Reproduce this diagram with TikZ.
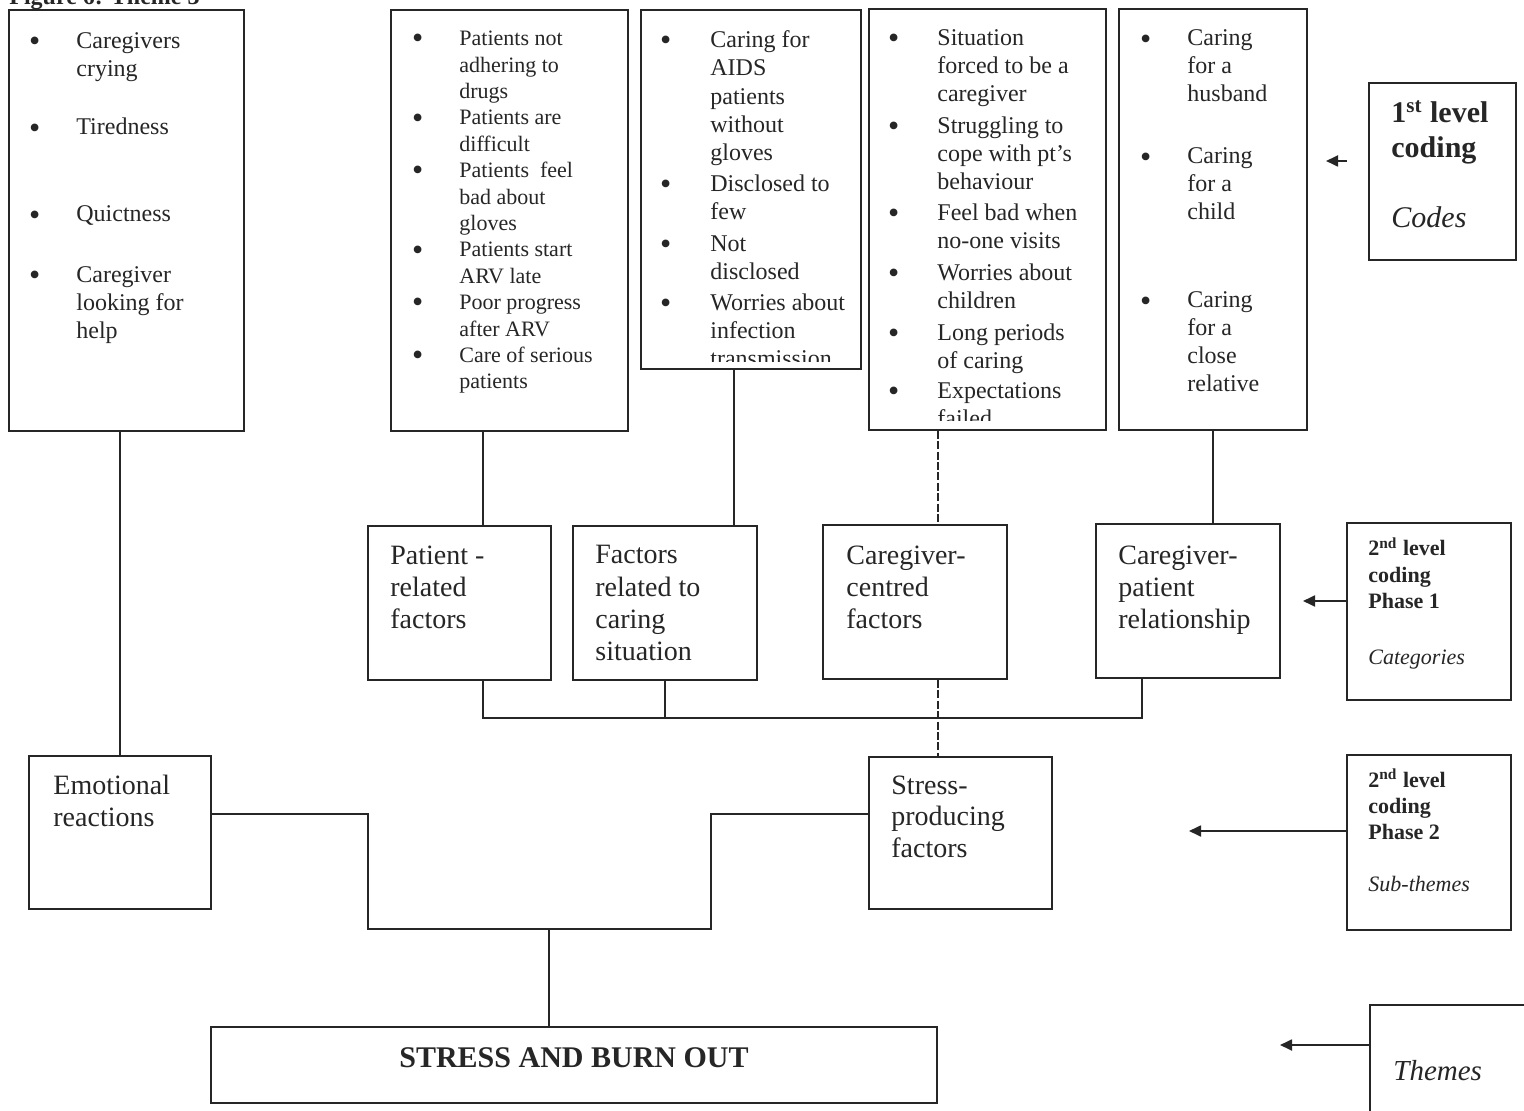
\documentclass[tikz,border=0pt]{standalone}
\usepackage{fontspec}
\setmainfont{Liberation Serif}
\usetikzlibrary{fit,arrows.meta}
\definecolor{ink}{RGB}{38,38,38}
\newcommand\bul[1][18pt]{\llap{\raisebox{-1.6pt}{\fontsize{16}{16}\selectfont\textbullet}\hspace{#1}}\ignorespaces}
\tikzset{
  box/.style={draw=ink, line width=0.9pt, inner sep=0pt, rectangle},
  ln/.style={draw=ink, line width=0.9pt},
  dln/.style={ln, dash pattern=on 4pt off 1.2pt},
  arr/.style={ln, -{Triangle[length=6pt,width=5.5pt]}},
  code/.style={anchor=base west, inner sep=0pt, align=left, text=ink, font=\fontsize{12}{14.2}\selectfont},
  codesm/.style={code, font=\fontsize{11}{13.2}\selectfont},
  cat/.style={code, font=\fontsize{14}{16}\selectfont},
  catb/.style={code, font=\fontsize{14}{15.6}\selectfont},
  legbig/.style={code, font=\fontsize{15}{17.5}\selectfont\bfseries},
  legbigit/.style={code, font=\fontsize{15}{17.5}\selectfont\itshape},
  legsm/.style={code, font=\fontsize{11}{13}\selectfont\bfseries},
  legsmit/.style={code, font=\fontsize{11}{13}\selectfont\itshape},
}
\begin{document}
\begin{tikzpicture}[x=0.5pt,y=-0.5pt]
\useasboundingbox (0,0) rectangle (1524,1111);
\fill[white] (0,0) rectangle (1524,1111);
\clip (0,0) rectangle (1524,1111);

% title (cut at the top edge)
\node[code, font=\fontsize{12}{14}\selectfont\bfseries] (title) at (9,5) {Figure 6: Theme 3};

% first-level code boxes
\node[box, fit={(9,10) (244,431)}] (A) {};
\node[box, fit={(391,10) (628,431)}] (B) {};
\node[box, fit={(641,10) (861,369)}] (C) {};
\node[box, fit={(869,9) (1106,430)}] (D) {};
\node[box, fit={(1119,9) (1307,430)}] (E) {};

% box A texts (nodes placed at the baseline of their last line)
\node[code] (a1) at (76,77) {\bul Caregivers\\crying};
\node[code] (a2) at (76,135) {\bul Tiredness};
\node[code] (a3) at (76,222) {\bul Quictness};
\node[code] (a4) at (76,339) {\bul Caregiver\\looking for\\help};

% box B texts
\node[codesm] (b1) at (459,389) {\bul Patients not\\adhering to\\drugs\\\bul Patients are\\difficult\\\bul Patients\ \ feel\\bad about\\gloves\\\bul Patients start\\ARV late\\\bul Poor progress\\after ARV\\\bul Care of serious\\patients};

% box C texts (last line cut by the box)
\begin{scope}
\clip (641,10) rectangle (861,362);
\node[code] (c1) at (710,161) {\bul[19.5pt] Caring for\\AIDS\\patients\\without\\gloves};
\node[code] (c2) at (710,220) {\bul[19.5pt] Disclosed to\\few};
\node[code] (c3) at (710,280) {\bul[19.5pt] Not\\disclosed};
\node[code] (c4) at (710,367) {\bul[19.5pt] Worries about\\infection\\transmission};
\end{scope}

% box D texts (last line cut by the box)
\begin{scope}
\clip (869,9) rectangle (1106,421);
\node[code] (d1) at (937,102) {\bul[19pt] Situation\\forced to be a\\caregiver};
\node[code] (d2) at (937,190) {\bul[19pt] Struggling to\\cope with pt’s\\behaviour};
\node[code] (d3) at (937,249) {\bul[19pt] Feel bad when\\no-one visits};
\node[code] (d4) at (937,309) {\bul[19pt] Worries about\\children};
\node[code] (d5) at (937,369) {\bul[19pt] Long periods\\of caring};
\node[code] (d6) at (937,427) {\bul[19pt] Expectations\\failed};
\end{scope}

% box E texts
\node[code, font=\fontsize{12}{14}\selectfont] (e1) at (1187,102) {\bul Caring\\for a\\husband};
\node[code, font=\fontsize{12}{14}\selectfont] (e2) at (1187,220) {\bul Caring\\for a\\child};
\node[code, font=\fontsize{12}{14}\selectfont] (e3) at (1187,392) {\bul Caring\\for a\\close\\relative};

% categories
\node[box, fit={(368,526) (551,680)}] (pat) {};
\node[box, fit={(573,526) (757,680)}] (fac) {};
\node[box, fit={(823,525) (1007,679)}] (cgc) {};
\node[box, fit={(1096,524) (1280,678)}] (rel) {};
\node[cat] (patT) at (390,628) {Patient -\\related\\factors};
\node[cat] (facT) at (595,660) {Factors\\related to\\caring\\situation};
\node[cat] (cgcT) at (846,628) {Caregiver-\\centred\\factors};
\node[cat] (relT) at (1118,628) {Caregiver-\\patient\\relationship};

% sub-themes
\node[box, fit={(29,756) (211,909)}] (emo) {};
\node[box, fit={(869,757) (1052,909)}] (stress) {};
\node[catb] (emoT) at (53,826) {Emotional\\reactions};
\node[catb] (stressT) at (891,857) {Stress-\\producing\\factors};

% theme
\node[box, fit={(211,1027) (937,1103)}] (burn) {};
\node[anchor=base, inner sep=0pt, text=ink, font=\fontsize{15}{17}\selectfont\bfseries] (burnT) at (574,1067) {STRESS AND BURN OUT};

% legend boxes
\node[box, fit={(1369,83) (1516,260)}] (L1) {};
\node[legbig] (L1a) at (1391,123) {1\textsuperscript{st} level};
\node[legbig] (L1b) at (1391,158) {coding};
\node[legbigit] (L1c) at (1391,228) {Codes};

\node[box, fit={(1347,523) (1511,700)}] (L2) {};
\node[legsm] (L2a) at (1368,608) {2\textsuperscript{nd} level\\coding\\Phase 1};
\node[legsmit] (L2b) at (1368,664) {Categories};

\node[box, fit={(1347,755) (1511,930)}] (L3) {};
\node[legsm] (L3a) at (1368,839) {2\textsuperscript{nd} level\\coding\\Phase 2};
\node[legsmit] (L3b) at (1368,891) {Sub-themes};

\node[box, fit={(1370,1005) (1545,1140)}] (L4) {};
\node[code, font=\fontsize{14.5}{17}\selectfont\itshape] (L4a) at (1393,1080) {Themes};

% helper coordinates
\coordinate (xB) at (483,0);
\coordinate (xC) at (734,0);
\coordinate (xD) at (938,0);
\coordinate (xR) at (1142,0);
\coordinate (yBus) at (0,718);
\coordinate (yE) at (0,814);
\coordinate (j1) at (368,929);
\coordinate (j2) at (711,929);
\coordinate (j3) at (549,929);

% connectors
\draw[ln] (emo.north |- A.south) -- (emo.north);
\draw[ln] (B.south -| xB) -- (pat.north -| xB);
\draw[ln] (C.south -| xC) -- (fac.north -| xC);
\draw[dln] (D.south -| xD) -- (cgc.north -| xD);
\draw[ln] (E.south) -- (E.south |- rel.north);
\draw[ln] (pat.south -| xB) |- (yBus -| xR) -- (rel.south -| xR);
\draw[ln] (fac.south) -- (fac.south |- yBus);
\draw[dln] (cgc.south -| xD) -- (stress.north -| xD);
\draw[ln] (emo.east |- yE) -| (j1) -- (j2) |- (stress.west |- yE);
\draw[ln] (j3) -- (j3 |- burn.north);

% legend arrows
\coordinate (a1s) at (1347,161);
\coordinate (a1e) at (1326,161);
\coordinate (y2) at (0,601);
\coordinate (a2e) at (1303,601);
\coordinate (y3) at (0,831);
\coordinate (a3e) at (1189,831);
\coordinate (y4) at (0,1045);
\coordinate (a4e) at (1280,1045);
\draw[arr] (a1s) -- (a1e);
\draw[arr] (L2.west |- y2) -- (a2e);
\draw[arr] (L3.west |- y3) -- (a3e);
\draw[arr] (L4.west |- y4) -- (a4e);
\end{tikzpicture}
\end{document}
